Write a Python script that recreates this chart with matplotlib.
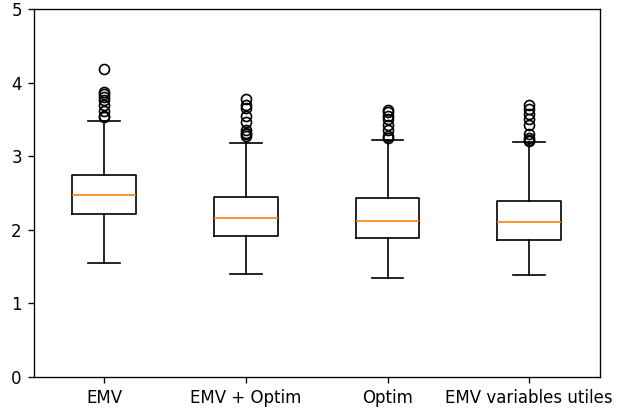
import matplotlib
matplotlib.use("Agg")
import matplotlib.pyplot as plt

# summary values
labels = ["EMV", "EMV + Optim", "Optim", "EMV variables utiles"]
medians = [2.47, 2.16, 2.12, 2.10]
q1 = [2.21, 1.92, 1.89, 1.86]
q3 = [2.74, 2.45, 2.43, 2.39]
whis_low = [1.55, 1.40, 1.35, 1.39]
whis_high = [3.48, 3.18, 3.22, 3.19]
fliers = [
    [4.18, 3.87, 3.84, 3.80, 3.76, 3.70, 3.62, 3.55, 3.53],
    [3.77, 3.70, 3.66, 3.55, 3.46, 3.36, 3.32, 3.30, 3.28],
    [3.63, 3.60, 3.55, 3.50, 3.43, 3.35, 3.28, 3.25],
    [3.70, 3.64, 3.57, 3.50, 3.43, 3.30, 3.25, 3.22, 3.20],
]

stats = []
for i in range(len(labels)):
    stats.append({
        "label": labels[i],
        "med": medians[i],
        "q1": q1[i],
        "q3": q3[i],
        "whislo": whis_low[i],
        "whishi": whis_high[i],
        "fliers": fliers[i],
    })

# rendered at 120 dpi so text and lines come out a bit heavier
fig = plt.figure(figsize=(617 / 120, 414 / 120), dpi=120)
ax = fig.add_axes([0.0543, 0.0894, 0.918, 0.889])
ax.bxp(stats)
ax.set_ylim(0, 5)

fig.savefig("out.png", dpi=120)
